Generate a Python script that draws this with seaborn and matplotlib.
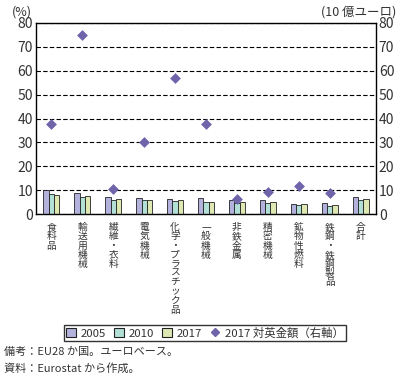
import matplotlib
matplotlib.use("Agg")
import matplotlib.pyplot as plt
import seaborn as sns
import pandas as pd
import numpy as np
from matplotlib.patches import Patch
from matplotlib.lines import Line2D

categories = ["食料品", "輸送用機械", "繊維・衣料", "電気機械", "化学・プラスチック品",
              "一般機械", "非鉄金属", "精密機械", "鉱物性燃料", "鉄鋼・鉄鋼製品", "合計"]
share_2005 = [10.0, 8.7, 7.0, 6.6, 6.2, 6.6, 5.7, 5.7, 4.2, 4.5, 7.0]
share_2010 = [8.2, 7.0, 5.7, 5.7, 5.3, 4.9, 4.8, 4.5, 3.6, 3.2, 5.7]
share_2017 = [7.8, 7.4, 6.2, 5.7, 5.7, 4.9, 4.9, 4.9, 4.0, 3.8, 6.1]
amount_2017 = [37.5, 75.0, 10.5, 30.0, 57.0, 37.5, 6.1, 9.3, 11.9, 8.7, np.nan]
years = ["2005", "2010", "2017"]
amount_label = "2017 対英金額（右軸）"

sns.set_theme(style="white")
plt.rcParams["font.family"] = ["Noto Sans CJK JP", "DejaVu Sans"]
txt = "#333333"

df = pd.DataFrame({"cat": categories * 3,
                   "year": np.repeat(years, len(categories)),
                   "val": share_2005 + share_2010 + share_2017})

fig = plt.figure(figsize=(4.01, 3.81), dpi=100)
ax = fig.add_axes([36/401, 1-214/381, 340/401, 191/381])

pal = {"2005": "#b3b2dc", "2010": "#b3e0d6", "2017": "#dde8b2"}
sns.barplot(data=df, x="cat", y="val", hue="year", order=categories, palette=pal,
            width=0.52, edgecolor="#222222", linewidth=0.6, ax=ax, legend=False,
            saturation=1)
ax.set_ylim(0, 80)
ax.set_xlim(-0.5, len(categories) - 0.5)
ax.set_yticks(range(0, 81, 10))
ax.yaxis.grid(True, linestyle=(0, (4, 2)), color="black", linewidth=0.8)
ax.set_axisbelow(True)
for s in ax.spines.values():
    s.set_color("black")
    s.set_linewidth(1.0)
ax.set_xlabel("")
ax.set_ylabel("")
ax.set_xticks(range(len(categories)))
ax.set_xticklabels([""] * len(categories))
ax.tick_params(axis="x", length=0)
ax.set_xticks(np.arange(0.5, len(categories) - 0.5, 1), minor=True)
ax.tick_params(axis="x", which="minor", direction="in", length=5, color="black", width=0.8)
ax.tick_params(axis="y", length=0, labelsize=10, colors=txt, pad=2)

# vertical (stacked) category labels, one character per line
pitch_pt = 6.6
for i, cat in enumerate(categories):
    for j, ch in enumerate(cat):
        ax.annotate(ch, xy=(i, 0), xycoords=("data", "axes fraction"),
                    xytext=(0, -9.5 - j * pitch_pt), textcoords="offset points",
                    ha="center", va="center", fontsize=7, color=txt,
                    annotation_clip=False)

ax2 = ax.twinx()
amt_df = pd.DataFrame({"cat": categories, "amt": amount_2017}).dropna()
sns.stripplot(data=amt_df, x="cat", y="amt", order=categories, jitter=False,
              marker="D", size=5.5, color="#6f63aa", linewidth=0, ax=ax2)
ax2.set_ylim(0, 80)
ax2.set_xlim(-0.5, len(categories) - 0.5)
ax2.set_yticks(range(0, 81, 10))
ax2.tick_params(axis="y", length=0, labelsize=10, colors=txt, pad=2)
ax2.set_ylabel("")
ax2.set_xlabel("")
ax2.set_xticks(range(len(categories)))
ax2.set_xticklabels([""] * len(categories))
ax2.tick_params(axis="x", length=0)
for s in ax2.spines.values():
    s.set_visible(False)

fig.text(12/401, 1-12/381, "(%)", fontsize=9, color=txt, va="center", ha="left")
fig.text(396/401, 1-12/381, "(10 億ユーロ)", fontsize=9, color=txt, va="center", ha="right")

handles = [Patch(facecolor=pal[y], edgecolor="#222222", linewidth=0.8) for y in years]
handles.append(Line2D([], [], marker="D", linestyle="none", color="#6f63aa", markersize=4))
leg = fig.legend(handles, years + [amount_label], loc="center",
                 bbox_to_anchor=(205/401, 1-333/381), ncol=4, fontsize=8.2,
                 frameon=True, fancybox=False, edgecolor="black", handlelength=0.9,
                 handleheight=0.9, handletextpad=0.4, columnspacing=0.7,
                 borderpad=0.2, labelcolor=txt)
leg.get_frame().set_linewidth(1.0)

fig.text(4/401, 1-352/381, "備考：EU28 か国。ユーロベース。", fontsize=8, color=txt, va="center")
fig.text(4/401, 1-368/381, "資料：Eurostat から作成。", fontsize=8, color=txt, va="center")

fig.savefig("out.png", dpi=100)
